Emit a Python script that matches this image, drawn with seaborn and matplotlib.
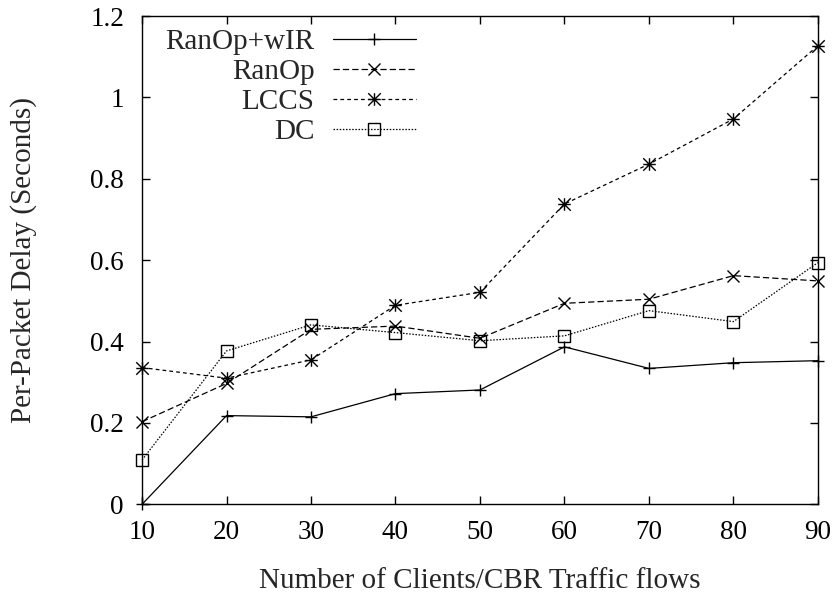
import numpy as np
import pandas as pd
import matplotlib
matplotlib.use("Agg")
import matplotlib.pyplot as plt
from matplotlib.path import Path
import seaborn as sns

# Number of clients / CBR traffic flows
clients = [10, 20, 30, 40, 50, 60, 70, 80, 90]

# Per-packet delay (seconds) for each scheme
ranop_wir = [0.0, 0.218, 0.215, 0.272, 0.281, 0.387, 0.334, 0.348, 0.353]
ranop = [0.203, 0.297, 0.430, 0.438, 0.408, 0.494, 0.504, 0.562, 0.549]
lccs = [0.336, 0.310, 0.355, 0.489, 0.521, 0.738, 0.836, 0.947, 1.127]
dc = [0.109, 0.377, 0.441, 0.422, 0.402, 0.414, 0.476, 0.449, 0.594]

series_names = ["RanOp+wIR", "RanOp", "LCCS", "DC"]
series_values = [ranop_wir, ranop, lccs, dc]

yticks = [0, 0.2, 0.4, 0.6, 0.8, 1.0, 1.2]
ytick_labels = ["0", "0.2", "0.4", "0.6", "0.8", "1", "1.2"]

sns.set_theme(style="ticks")
plt.rcParams["font.family"] = ["Liberation Serif", "DejaVu Serif"]
plt.rcParams["axes.linewidth"] = 1.0

# gnuplot-style asterisk: a plus overlaid with a cross
asterisk = Path(
    [(-1, 0), (1, 0), (0, -1), (0, 1), (-1, -1), (1, 1), (-1, 1), (1, -1)],
    [Path.MOVETO, Path.LINETO] * 4,
)

styles = {
    "RanOp+wIR": dict(marker="+", dashes=None, ms=9),
    "RanOp": dict(marker="x", dashes=(5, 2.5), ms=8.5),
    "LCCS": dict(marker=asterisk, dashes=(3, 2.5), ms=9),
    "DC": dict(marker="s", dashes=(1.2, 1.3), ms=8.5),
}

fig = plt.figure(figsize=(8.38, 5.95), dpi=100)
ax = fig.add_axes([0.1695, 0.1524, 0.8065, 0.8207])

for name, vals in zip(series_names, series_values):
    st = styles[name]
    df = pd.DataFrame({"clients": clients, "delay": vals})
    sns.lineplot(
        data=df, x="clients", y="delay", ax=ax, color="black",
        linewidth=0.9, marker=st["marker"], markersize=st["ms"],
        markerfacecolor="none", markeredgecolor="black", markeredgewidth=1.0,
        label=name, clip_on=False,
    )
    line = ax.get_lines()[-1]
    if st["dashes"] is not None:
        line.set_dashes(st["dashes"])
    else:
        line.set_linestyle("-")

ax.set_xlim(10, 90)
ax.set_ylim(0, 1.2)
ax.set_xticks(clients)
ax.set_xticklabels([str(c) for c in clients])
ax.set_yticks(yticks)
ax.set_yticklabels(ytick_labels)
ax.tick_params(axis="both", direction="in", length=6, width=1.0,
               top=True, right=True, labelsize=19.5, colors="black")
ax.tick_params(axis="x", pad=11)
ax.tick_params(axis="y", pad=13)
for sp in ax.spines.values():
    sp.set_visible(True)
    sp.set_color("black")

ax.set_xlabel("Number of Clients/CBR Traffic flows", fontsize=21, labelpad=17)
ax.set_ylabel("Per-Packet Delay (Seconds)", fontsize=21, labelpad=38)

leg = ax.legend(
    loc="upper right", bbox_to_anchor=(0.405, 0.974), frameon=False,
    markerfirst=False, fontsize=21, handlelength=2.85, handletextpad=0.62,
    labelspacing=0.12, borderaxespad=0.0, borderpad=0.0,
)

fig.savefig("out.png", dpi=100)
